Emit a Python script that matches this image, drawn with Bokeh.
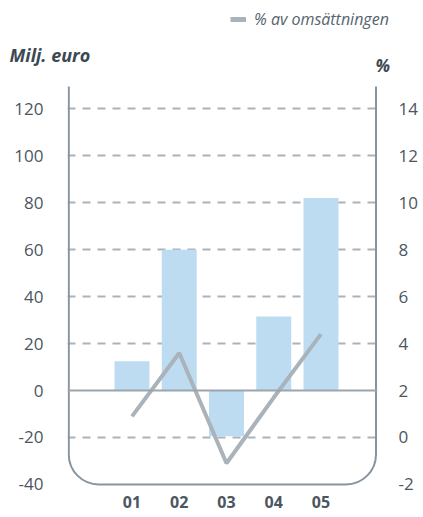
from bokeh.plotting import figure
from bokeh.layouts import column
from bokeh.models import (Range1d, LinearAxis, FixedTicker, BoxAnnotation, Span,
                          Label, Legend, LegendItem)
from bokeh.embed import file_html
from bokeh.resources import INLINE

# ---- data ----
years = ["01", "02", "03", "04", "05"]
profit = [12.5, 60, -19.5, 31.5, 82]      # Milj. euro (bars, left axis)
pct = [0.9, 3.6, -1.1, 1.7, 4.4]          # % av omsättningen (line, right axis)
left_ticks = [-40, -20, 0, 20, 40, 60, 80, 100, 120]
right_ticks = [-2, 0, 2, 4, 6, 8, 10, 12, 14]

xpos = list(range(1, len(years) + 1))

FONT = "Open Sans"
TXT = "#4b5661"
HEAD = "#3c4852"
LINE_C = "#a9b3b9"
W = 423
HEAD_H = 86
MAIN_H = 431

# ---------------- header (titles + legend) ----------------
head = figure(width=W, height=HEAD_H, x_range=Range1d(0, W), y_range=Range1d(0, HEAD_H),
              output_backend="svg", toolbar_location=None,
              x_axis_location=None, y_axis_location=None,
              min_border_left=0, min_border_right=0, min_border_top=0, min_border_bottom=0)
head.frame_align = False
head.grid.visible = False
head.outline_line_color = None
head.add_layout(Label(x=9, y=HEAD_H - 54.5, text="Milj. euro", text_font=FONT,
                      text_font_style="bold italic", text_font_size="18px",
                      text_color=HEAD, text_baseline="alphabetic", text_align="left"))
head.add_layout(Label(x=375, y=HEAD_H - 64.5, text="%", text_font=FONT,
                      text_font_style="bold italic", text_font_size="17px",
                      text_color=HEAD, text_baseline="alphabetic", text_align="left"))
# legend-only swatch (no visible data)
swatch = head.line(x=[float("nan")], y=[float("nan")], line_color=LINE_C, line_width=5)
legend = Legend(items=[LegendItem(label="% av omsättningen", renderers=[swatch])],
                location=(230, 56), border_line_color=None, background_fill_alpha=0,
                padding=0, margin=0, glyph_width=16, glyph_height=14, label_height=14,
                label_standoff=8, label_text_font=FONT, label_text_font_style="italic",
                label_text_font_size="16px", label_text_color="#56636d")
head.add_layout(legend)

# ---------------- main chart ----------------
Y1 = 129.5
Y0 = -41.32
X0, X1 = -0.365, 6.196
BOX_L, BOX_R = -0.338, 6.164

p = figure(width=W, height=MAIN_H, x_range=Range1d(X0, X1), y_range=Range1d(Y0, Y1),
           output_backend="svg", toolbar_location=None,
           min_border_left=67, min_border_right=46, min_border_top=0, min_border_bottom=30)
p.frame_align = False
p.extra_y_ranges = {"pct": Range1d(Y0 / 10 + 2, Y1 / 10 + 2)}
p.outline_line_color = None

# grid
p.xgrid.visible = False
p.ygrid.ticker = FixedTicker(ticks=[t for t in left_ticks if t not in (0, -40)])
p.ygrid.grid_line_color = "#a9b3bb"
p.ygrid.grid_line_width = 2
p.ygrid.grid_line_dash = "8 7"

# rounded frame (open at the top)
box = BoxAnnotation(left=BOX_L, right=BOX_R, bottom=-40, top=400,
                    fill_alpha=0, line_color="#8794a0", line_alpha=1, line_width=2,
                    border_radius=dict(top_left=0, top_right=0, bottom_right=30, bottom_left=30))
p.add_layout(box)

# bars
p.vbar(x=xpos, top=profit, bottom=0, width=0.74, fill_color="#bddcf2", line_color=None)

# zero line
p.add_layout(Span(location=0, dimension="width", line_color="#9aa6ae", line_width=2))

# percent line
r = p.line(xpos, pct, y_range_name="pct", line_color=LINE_C, line_width=4)

# axes
def style_axis(ax, standoff):
    ax.axis_line_color = None
    ax.major_tick_line_color = None
    ax.minor_tick_line_color = None
    ax.major_tick_out = 0
    ax.major_tick_in = 0
    ax.major_label_standoff = standoff
    ax.major_label_text_font = FONT
    ax.major_label_text_font_size = "17px"
    ax.major_label_text_color = TXT

p.yaxis.ticker = FixedTicker(ticks=left_ticks)
p.yaxis.major_label_overrides = {t: str(t) for t in left_ticks}
style_axis(p.yaxis[0], 24)

ax_r = LinearAxis(y_range_name="pct", ticker=FixedTicker(ticks=right_ticks),
                  major_label_overrides={t: str(t) for t in right_ticks})
style_axis(ax_r, 21)
p.add_layout(ax_r, "right")

p.xaxis.ticker = FixedTicker(ticks=xpos)
p.xaxis.major_label_overrides = {x: y for x, y in zip(xpos, years)}
style_axis(p.xaxis[0], 8)
p.xaxis.major_label_text_font_style = "bold"
p.xaxis.major_label_text_font_size = "16px"

layout = column(head, p, spacing=0)
open("out.html", "w").write(file_html(layout, INLINE))
